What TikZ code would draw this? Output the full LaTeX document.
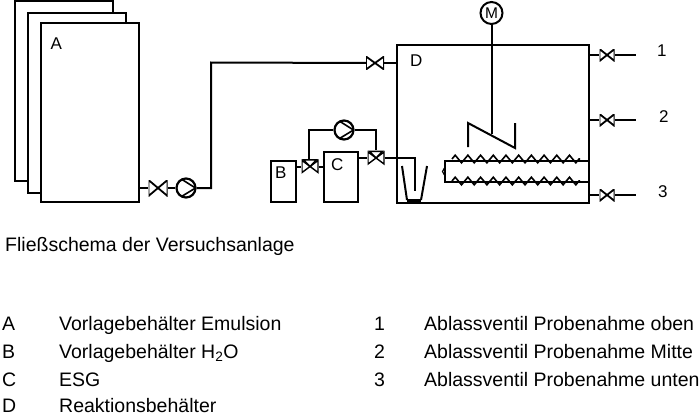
\documentclass[tikz,border=0pt]{standalone}
\usepackage{fontspec}
\setmainfont{Liberation Sans}
\usetikzlibrary{calc,decorations.pathmorphing}
\tikzset{
	anlage/.style={line width=2pt,line join=miter},
	behaelter/.style={draw,line width=2.2pt,fill=white,inner sep=0pt},
	ventil/.style={inner sep=0pt,minimum width=#1,minimum height=13pt,
		path picture={\draw[line width=1.8pt] (path picture bounding box.south west)--(path picture bounding box.north east)--(path picture bounding box.south east)--(path picture bounding box.north west)--cycle;}},
	ventil/.default=18pt,
	dreiwege/.style={inner sep=0pt,minimum width=17pt,minimum height=15pt,
		path picture={\draw[line width=1.4pt,line join=miter] (path picture bounding box.center)++(-8pt,-6pt)--++(16pt,12pt)--++(0pt,-12pt)--++(-16pt,12pt)--cycle;
			\draw[line width=1.4pt] (path picture bounding box.center)--++(-6.5pt,6.6pt)--++(13pt,0pt)--cycle;}},
	pumpe/.style={draw,circle,line width=2.2pt,minimum size=19pt,inner sep=0pt,fill=white,
		path picture={\draw[line width=1.6pt] (path picture bounding box.center)++(-4pt,8.5pt)--(path picture bounding box.east)--++(-14pt,-8.5pt);}},
	txt/.style={anchor=base west,inner sep=0pt,font=\fontsize{19.5}{22}\selectfont},
	klein/.style={txt,font=\fontsize{17}{20}\selectfont},
	heizung/.style={decorate,decoration={zigzag,segment length=12.7pt,amplitude=3.8pt},line width=1.6pt}
}
\begin{document}
\begin{tikzpicture}[x=1pt,y=-1pt]
	\useasboundingbox (0,0) rectangle (700,415);
	% Vorlagebehaelter
	\node[behaelter,minimum width=98pt,minimum height=180pt] (A3) at (64,91) {};
	\node[behaelter,minimum width=98pt,minimum height=180pt] (A2) at (77,103) {};
	\node[behaelter,minimum width=98pt,minimum height=179pt] (A1) at (90,112.5) {};
	\node[klein] (lA) at (50.5,49) {A};
	\node[ventil=19pt,minimum height=16pt] (V1) at (158,188) {};
	\node[pumpe] (P1) at (186,188) {};
	\coordinate (k1) at (211,188);
	\coordinate (k2) at (211,62.5);
	% Reaktionsbehaelter
	\node[behaelter,minimum width=192pt,minimum height=158pt,anchor=north west] (D) at (396,44) {};
	\node[klein] (lD) at (410,66) {D};
	\node[ventil] (V2) at (375,63) {};
	\draw[anlage] (A1.east|-V1)--(V1);
	\draw[anlage] (V1)--(P1);
	\draw[anlage] (P1)--(k1)--(k2)--(V2);
	\draw[anlage] (V2)--(V2-|D.west);
	% Ruehrer
	\node[draw,circle,line width=2pt,minimum size=22pt,inner sep=0pt,font=\fontsize{15.5}{15.5}\selectfont] (M) at (491.5,13) {M};
	\coordinate (r0) at (491.5,134);
	\draw[anlage] (M)--(r0);
	\draw[anlage] (468,147)--(468,123)--(515,148)--(515,123);
	% Heizung
	\coordinate (h1) at (588,160.5);
	\coordinate (h2) at (445,160.5);
	\coordinate (h3) at (445,181.5);
	\coordinate (h4) at (588,181.5);
	\draw[anlage] (h1)--(h2)--(h3)--(h4);
	\draw[heizung] (452,159)--(580,159);
	\draw[heizung] (452,181)--(580,181);
	\draw[line width=1.2pt] (445,167)--(442.5,171.5)--(445,176);
	% Ablass
	\node[ventil=15pt,minimum height=12pt] (V3) at (607,55) {};
	\node[ventil=15pt,minimum height=12pt] (V4) at (607,120) {};
	\node[ventil=15pt,minimum height=12pt] (V5) at (607,195) {};
	\coordinate (e3) at (636,55);
	\coordinate (e4) at (636,120);
	\coordinate (e5) at (636,195);
	\draw[anlage] (V3-|D.east)--(V3) (V3)--(e3);
	\draw[anlage] (V4-|D.east)--(V4) (V4)--(e4);
	\draw[anlage] (V5-|D.east)--(V5) (V5)--(e5);
	\node[klein] (l1) at (657,56) {1};
	\node[klein] (l2) at (659,122) {2};
	\node[klein] (l3) at (658,197) {3};
	% ESG
	\node[behaelter,minimum width=25pt,minimum height=41pt] (B) at (283.5,181.5) {};
	\node[behaelter,minimum width=34pt,minimum height=50pt] (C) at (341,177) {};
	\node[klein] (lB) at (275,178) {B};
	\node[klein] (lC) at (331,170) {C};
	\node[dreiwege] (V6) at (310,166.5) {};
	\node[dreiwege] (V7) at (376,158) {};
	\node[pumpe] (P2) at (344,130) {};
	\coordinate (k3) at (309,130);
	\coordinate (k4) at (376,130);
	\coordinate (k5) at (415,158);
	\coordinate (k6) at (415,191);
	\draw[anlage] (B.east|-V6)--(V6);
	\draw[anlage] (V6)--(C.west|-V6);
	\draw[anlage] (C.east|-V7)--(V7);
	\draw[anlage] (V7)--(k5)--(k6);
	\draw[anlage] (V6.north-|k3)--(k3)--(P2);
	\draw[anlage] (P2)--(k4)--(V7.north);
	% Becher
	\draw[anlage] (402,166)--(407,200);
	\draw[anlage] (427,166)--(421,200);
	\draw[line width=3pt] (407,200)--(421,200);
	% Text
	\node[txt] (titel) at (5,251) {Fließschema der Versuchsanlage};
	\node[txt] (a) at (2,330.5) {A};
	\node[txt] (ta) at (59,330.5) {Vorlagebehälter Emulsion};
	\node[txt] (b) at (2,358) {B};
	\node[txt] (tb) at (59,358) {Vorlagebehälter H\textsubscript{2}O};
	\node[txt] (c) at (2,386) {C};
	\node[txt] (tc) at (59,386) {ESG};
	\node[txt] (d) at (2,412) {D};
	\node[txt] (td) at (59,412) {Reaktionsbehälter};
	\node[txt] (n1) at (374,330.5) {1};
	\node[txt] (t1) at (424,330.5) {Ablassventil Probenahme oben};
	\node[txt] (n2) at (374,358) {2};
	\node[txt] (t2) at (424,358) {Ablassventil Probenahme Mitte};
	\node[txt] (n3) at (374,386) {3};
	\node[txt] (t3) at (424,386) {Ablassventil Probenahme unten};
\end{tikzpicture}
\end{document}
